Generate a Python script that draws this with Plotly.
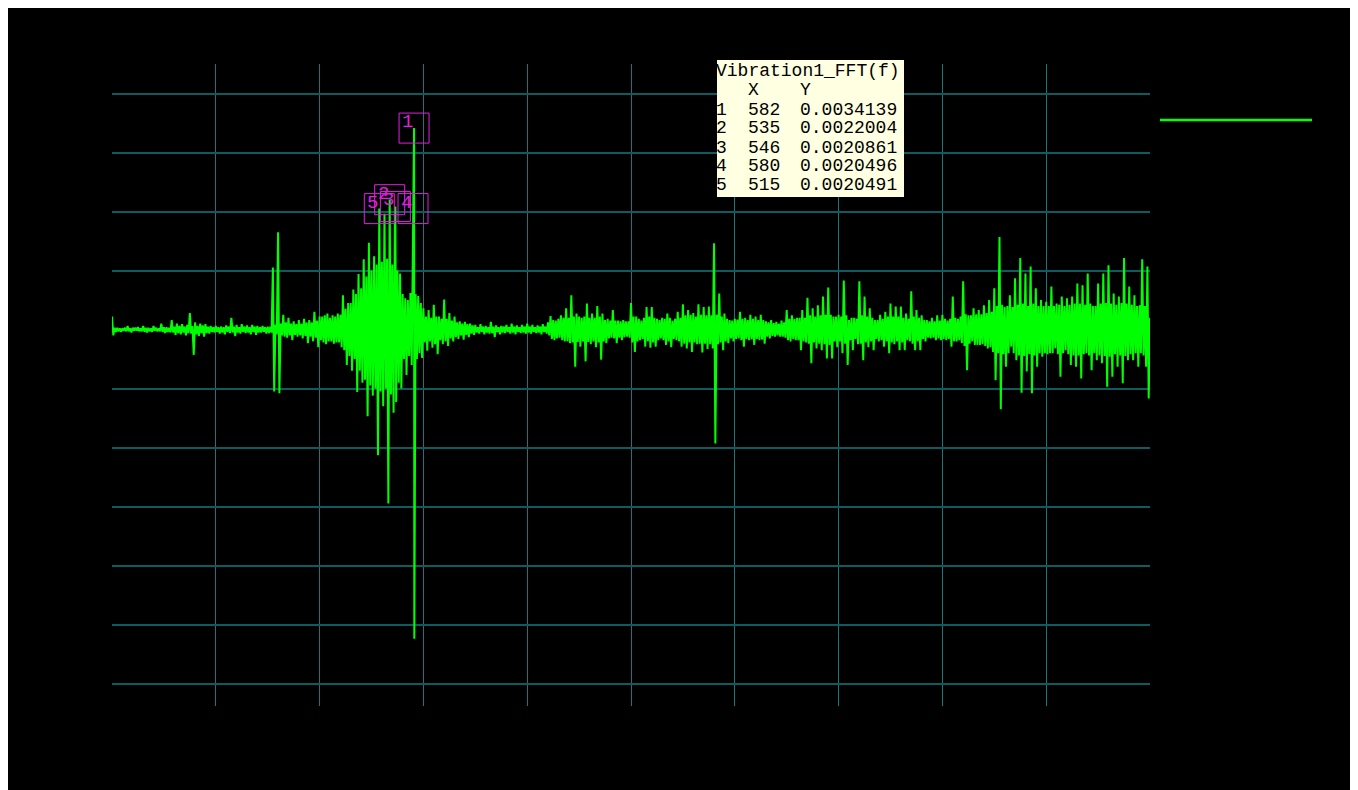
import plotly.graph_objects as go

# ---------------- data (values in units of 1e-5) ----------------
# upper swings, sampled at x = 0, 5, 10, ... 2000
upper_1e5 = [
    22, 3, 3, 2, 2, 3, 6, 2, 3, 3, 4, 2, 6, 3, 3, 2, 6, 3, 2, 10,
    4, 4, 3, 16, 5, 10, 6, 9, 5, 8, 28, 6, 12, 6, 10, 7, 9, 5, 6, 4,
    6, 4, 5, 4, 7, 5, 20, 5, 8, 4, 9, 5, 7, 4, 8, 5, 6, 4, 6, 4,
    5, 5, 105, 8, 165, 10, 25, 12, 20, 10, 14, 9, 16, 10, 18, 12, 16, 12, 30, 15,
    22, 22, 24, 27, 20, 24, 22, 27, 25, 58, 35, 45, 45, 68, 60, 94, 70, 119, 90, 147,
    100, 124, 110, 205, 115, 196, 120, 220, 110, 179, 100, 95, 60, 53, 50, 62, 205, 60, 57, 45,
    36, 22, 33, 20, 42, 22, 22, 18, 51, 18, 28, 15, 22, 12, 14, 10, 13, 9, 10, 7,
    8, 4, 9, 5, 6, 4, 13, 5, 7, 4, 6, 5, 8, 4, 10, 5, 7, 4, 8, 5,
    10, 5, 8, 4, 7, 5, 9, 5, 12, 23, 16, 15, 18, 24, 20, 36, 20, 58, 22, 27,
    22, 20, 22, 44, 20, 27, 20, 40, 22, 27, 16, 18, 15, 33, 15, 15, 14, 16, 14, 14,
    45, 22, 22, 18, 15, 20, 38, 22, 38, 20, 18, 16, 20, 18, 27, 20, 15, 18, 30, 20,
    43, 24, 33, 25, 28, 22, 43, 25, 38, 24, 39, 24, 146, 25, 61, 22, 27, 18, 16, 15,
    18, 17, 30, 18, 20, 16, 25, 18, 22, 16, 25, 16, 14, 12, 16, 11, 13, 10, 15, 12,
    33, 18, 24, 18, 20, 20, 33, 20, 54, 24, 36, 22, 41, 24, 56, 25, 71, 25, 22, 22,
    25, 22, 83, 24, 16, 20, 20, 18, 82, 24, 56, 22, 36, 20, 16, 16, 25, 18, 30, 22,
    44, 22, 39, 22, 39, 20, 27, 18, 65, 22, 33, 20, 24, 16, 16, 14, 20, 14, 24, 15,
    25, 18, 15, 18, 56, 20, 18, 22, 82, 26, 24, 24, 36, 26, 33, 26, 41, 28, 50, 30,
    70, 40, 157, 42, 38, 40, 58, 38, 87, 42, 121, 44, 95, 40, 107, 44, 70, 40, 50, 40,
    47, 40, 73, 40, 44, 42, 56, 40, 53, 42, 56, 44, 78, 44, 75, 42, 95, 44, 40, 40,
    78, 44, 95, 45, 109, 44, 61, 42, 56, 45, 121, 44, 73, 42, 58, 40, 41, 119, 40, 107,
    20,
]
# lower swings, sampled at x = 2.5, 7.5, 12.5, ... 1997.5
lower_1e5 = [
    -10, -4, -3, -4, -2, -3, -3, -5, -2, -2, -3, -3, -4, -5, -3, -4, -2, -3, -3, -4,
    -6, -4, -5, -5, -9, -6, -8, -5, -10, -6, -7, -43, -8, -11, -6, -12, -6, -7, -4, -5,
    -4, -7, -5, -8, -4, -6, -5, -11, -5, -7, -4, -6, -5, -8, -4, -9, -5, -5, -4, -7,
    -6, -5, -105, -8, -108, -10, -12, -14, -10, -18, -9, -12, -10, -15, -11, -23, -12, -20, -14, -30,
    -18, -22, -25, -20, -20, -24, -22, -22, -30, -35, -60, -45, -70, -50, -106, -70, -90, -85, -147, -95,
    -112, -100, -213, -105, -130, -100, -295, -110, -141, -123, -90, -100, -50, -77, -45, -60, -524, -50, -40, -48,
    -22, -36, -20, -31, -25, -42, -18, -25, -20, -28, -15, -20, -13, -16, -10, -17, -9, -13, -7, -9,
    -5, -7, -4, -8, -5, -7, -6, -13, -4, -8, -5, -6, -4, -7, -5, -8, -4, -6, -5, -7,
    -5, -7, -4, -6, -5, -8, -4, -7, -10, -16, -18, -15, -14, -18, -20, -20, -23, -22, -63, -21,
    -29, -20, -54, -21, -25, -20, -30, -22, -51, -20, -23, -15, -14, -15, -23, -14, -18, -13, -12, -14,
    -22, -38, -20, -18, -16, -29, -20, -31, -22, -29, -18, -15, -18, -26, -20, -30, -16, -18, -20, -29,
    -24, -32, -22, -38, -22, -25, -24, -39, -24, -33, -25, -32, -193, -25, -22, -35, -20, -23, -15, -20,
    -16, -15, -18, -29, -16, -18, -17, -26, -16, -18, -17, -24, -12, -15, -11, -12, -10, -12, -12, -14,
    -18, -20, -16, -18, -18, -35, -20, -22, -24, -57, -22, -32, -24, -35, -25, -49, -26, -49, -20, -30,
    -20, -40, -24, -60, -18, -35, -16, -25, -24, -52, -22, -30, -20, -35, -16, -20, -18, -29, -20, -40,
    -22, -25, -20, -35, -22, -35, -18, -20, -24, -35, -20, -35, -16, -20, -14, -15, -14, -18, -15, -18,
    -16, -18, -16, -29, -20, -20, -18, -23, -28, -69, -24, -20, -26, -26, -26, -25, -28, -32, -30, -38,
    -86, -40, -135, -42, -63, -40, -29, -40, -52, -44, -107, -45, -71, -42, -108, -44, -63, -40, -46, -40,
    -42, -40, -40, -32, -42, -80, -40, -35, -42, -60, -44, -63, -44, -83, -42, -40, -44, -69, -40, -52,
    -44, -57, -45, -97, -46, -80, -42, -63, -44, -91, -45, -52, -42, -52, -40, -63, -40, -44, -63, -117,
]
x_step = 5

# detected peaks (from the table)
peak_x = [582, 535, 546, 580, 515]
peak_y = [0.0034139, 0.0022004, 0.0020861, 0.0020496, 0.0020491]
peak_labels = ["1", "2", "3", "4", "5"]

table_title = "Vibration1_FFT(f)"
table_header = ["X", "Y"]
table_x_text = ["582", "535", "546", "580", "515"]
table_y_text = ["0.0034139", "0.0022004", "0.0020861", "0.0020496", "0.0020491"]

# ---------------- build series ----------------
pts = {}
for i, v in enumerate(upper_1e5):
    pts[i * x_step] = v * 1e-5
for i, v in enumerate(lower_1e5):
    pts[i * x_step + x_step / 2] = v * 1e-5
for px_, py_ in zip(peak_x, peak_y):
    pts[px_] = py_
xs = sorted(pts)
ys = [pts[k] for k in xs]

# ---------------- layout geometry ----------------
OFF = 8                             # page body offset of the figure
W, H = 1358, 790
L, R, T, B = 112, 1150, 64, 706     # plot area in page pixels


def fx(px):
    return (px - L) / (R - L)


def fy(py):
    return (B - py) / (B - T)


GREEN = "#00FF00"
MAGENTA = "#E020E0"
FONT = "Liberation Mono, DejaVu Sans Mono, monospace"

fig = go.Figure()
fig.add_trace(go.Scatter(x=xs, y=ys, mode="lines",
                         line=dict(color=GREEN, width=2), showlegend=False,
                         hoverinfo="skip"))

shapes = []
shapes.append(dict(type="line", xref="paper", yref="paper",
                   x0=fx(1160), x1=fx(1312), y0=fy(120), y1=fy(120),
                   line=dict(color=GREEN, width=2.5)))
for px_, py_ in zip(peak_x, peak_y):
    shapes.append(dict(type="rect", xref="x", yref="y",
                       xsizemode="pixel", ysizemode="pixel",
                       xanchor=px_, yanchor=py_,
                       x0=-15, x1=15, y0=-15, y1=15,
                       line=dict(color=MAGENTA, width=1)))
shapes.append(dict(type="rect", xref="paper", yref="paper",
                   x0=fx(717), x1=fx(904), y0=fy(197), y1=fy(60),
                   fillcolor="#FFFFE1", line=dict(width=0), layer="above"))

annotations = []
for px_, py_, lab in zip(peak_x, peak_y, peak_labels):
    annotations.append(dict(x=px_, y=py_, xref="x", yref="y", text=lab,
                            showarrow=False, xanchor="left", yanchor="top",
                            xshift=-13, yshift=18, borderpad=0,
                            font=dict(family=FONT, size=19, color=MAGENTA)))


def cell(px, py, text):
    annotations.append(dict(x=fx(px), y=fy(py), xref="paper", yref="paper",
                            text=text, showarrow=False, xanchor="left",
                            yanchor="middle", borderpad=0,
                            font=dict(family=FONT, size=18, color="black")))


row_y = [70, 89, 108.5, 127, 146.5, 165.3, 184]
cell(715, row_y[0] + 1, table_title)
cell(747, row_y[1] + 1, table_header[0])
cell(799, row_y[1] + 1, table_header[1])
for i in range(5):
    cell(715, row_y[i + 2] + 1, str(i + 1))
    cell(747, row_y[i + 2] + 1, table_x_text[i])
    cell(799, row_y[i + 2] + 1, table_y_text[i])

fig.update_layout(
    width=W, height=H, autosize=False,
    margin=dict(l=L - OFF, r=W - (R - OFF), t=T - OFF, b=H - (B - OFF), pad=0),
    paper_bgcolor="black", plot_bgcolor="black",
    shapes=shapes, annotations=annotations,
    showlegend=False,
    xaxis=dict(range=[0, 2000], tick0=0, dtick=200, showgrid=True,
               gridcolor="#1E7479", gridwidth=1, zeroline=False,
               showticklabels=False, showline=False, ticks=""),
    yaxis=dict(range=[-0.00638, 0.0045], tick0=0, dtick=0.001, showgrid=True,
               gridcolor="#0E5C60", gridwidth=2, zeroline=False,
               showticklabels=False, showline=False, ticks=""),
)

fig.write_html("out.html")
